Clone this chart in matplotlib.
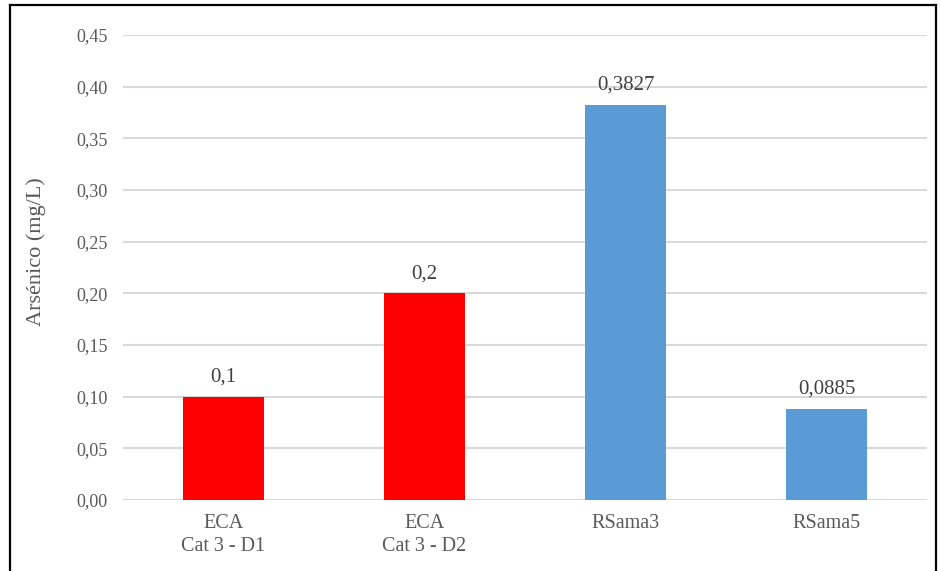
import matplotlib.pyplot as plt
from matplotlib.lines import Line2D

# Datos
categorias = ["ECA\nCat 3 - D1", "ECA\nCat 3 - D2", "RSama3", "RSama5"]
valores = [0.1, 0.2, 0.3827, 0.0885]
etiquetas = ["0,1", "0,2", "0,3827", "0,0885"]
colores = ["#FF0000", "#FF0000", "#5B9BD5", "#5B9BD5"]
yticks = [0.00, 0.05, 0.10, 0.15, 0.20, 0.25, 0.30, 0.35, 0.40, 0.45]

plt.rcParams['font.family'] = ['Liberation Serif', 'DejaVu Serif']

fig = plt.figure(figsize=(9.41, 5.71), dpi=100)
ax = fig.add_axes([0.1307, 0.1243, 0.8545, 0.8144])

x = range(len(categorias))
barras = ax.bar(x, valores, width=0.4, color=colores, zorder=3)

for b, txt in zip(barras, etiquetas):
    ax.annotate(txt, (b.get_x() + b.get_width()/2, b.get_height()),
                xytext=(0, 7), textcoords="offset points",
                ha="center", va="bottom", fontsize=15, color="#404040", zorder=4)

ax.set_xlim(-0.5, len(categorias) - 0.5)
ax.set_ylim(0, 0.45)
ax.set_yticks(yticks)
ax.set_yticklabels([f"{v:.2f}".replace(".", ",") for v in yticks])
ax.set_xticks(list(x))
ax.set_xticklabels(categorias, fontsize=14.5, color="#595959", linespacing=1.3)
ax.tick_params(axis="y", labelsize=13, labelcolor="#595959", length=0, pad=11)
ax.tick_params(axis="x", length=0, pad=10)
ax.set_ylabel("Arsénico (mg/L)", fontsize=16, color="#595959")
ax.yaxis.set_label_coords(-0.096, 0.535)

ax.grid(axis="y", color="#D9D9D9", linewidth=1.5, zorder=0)
for s in ax.spines.values():
    s.set_visible(False)

# Marco exterior
for xs, ys in [([0.0106, 0.0106], [-0.01, 0.991]),
               ([0.0106, 0.9947], [0.991, 0.991]),
               ([0.9947, 0.9947], [-0.01, 0.991])]:
    fig.add_artist(Line2D(xs, ys, color="black", linewidth=1.6, transform=fig.transFigure))

plt.savefig("out.png", dpi=100)
